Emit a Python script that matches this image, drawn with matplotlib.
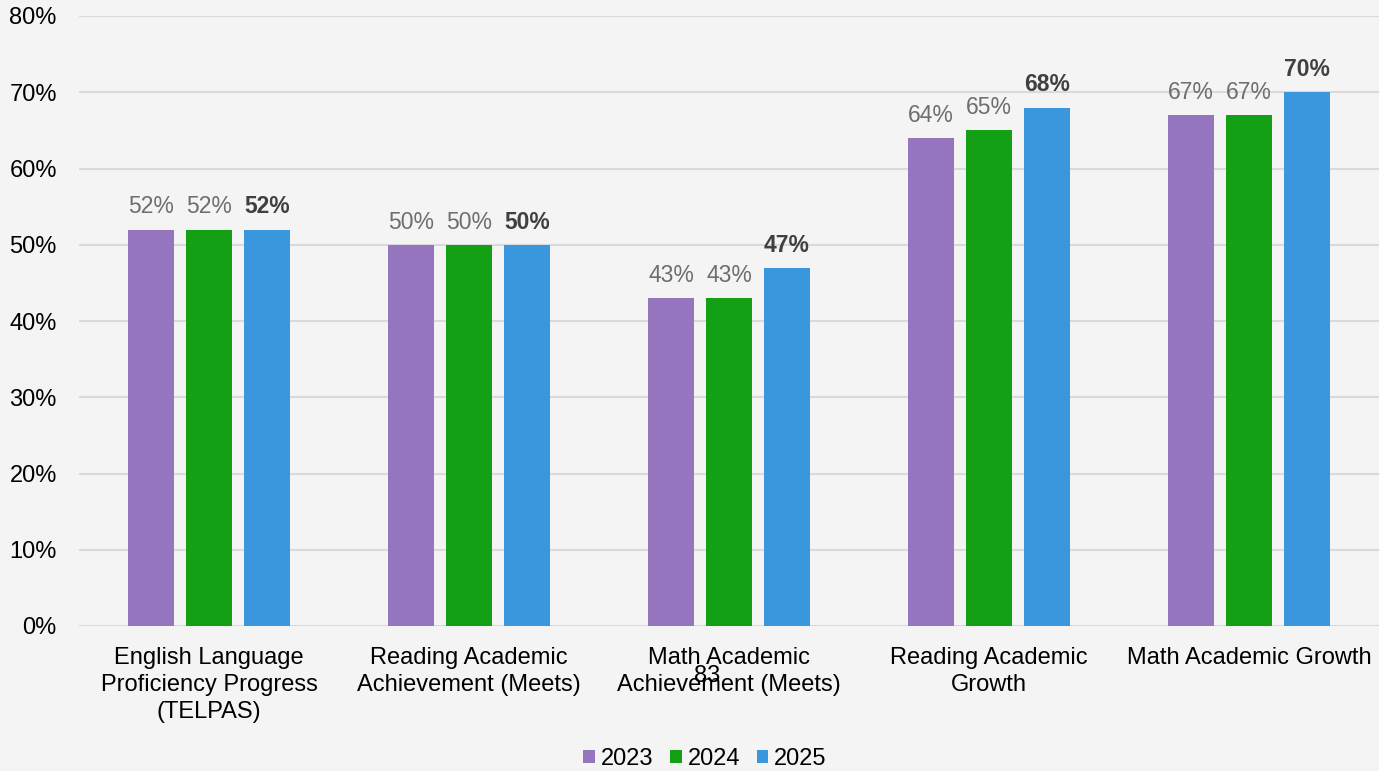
import numpy as np
import matplotlib.pyplot as plt
from matplotlib.ticker import PercentFormatter

plt.rcParams['font.family'] = ['Liberation Sans', 'DejaVu Sans']

# categories and yearly results (percent)
categories = ["English Language\nProficiency Progress\n(TELPAS)",
              "Reading Academic\nAchievement (Meets)",
              "Math Academic\nAchievement (Meets)",
              "Reading Academic\nGrowth",
              "Math Academic Growth"]
years = ["2023", "2024", "2025"]
vals_2023 = [52, 50, 43, 64, 67]
vals_2024 = [52, 50, 43, 65, 67]
vals_2025 = [52, 50, 47, 68, 70]

colors = ["#9575BE", "#14A014", "#3A97DD"]
bg = "#F4F4F4"
fs = 17

fig = plt.figure(figsize=(13.79, 7.71), dpi=100, facecolor=bg)
ax = fig.add_axes([79/1379, 1 - 626/771, 1 - 79/1379, 610/771])
ax.set_facecolor(bg)

x = np.arange(len(categories))
width = 0.177
step = 0.223
series = [vals_2023, vals_2024, vals_2025]

for i, (yr, vals, c) in enumerate(zip(years, series, colors)):
    bars = ax.bar(x + (i - 1) * step, vals, width, color=c, label=yr, zorder=3)
    for b, v in zip(bars, vals):
        if i == 2:
            ax.annotate(f"{v}%", (b.get_x() + b.get_width() / 2, v),
                        xytext=(0, 8), textcoords="offset points",
                        ha="center", va="bottom", fontsize=16.5,
                        fontweight="bold", color="#404040")
        else:
            ax.annotate(f"{v}%", (b.get_x() + b.get_width() / 2, v),
                        xytext=(0, 8), textcoords="offset points",
                        ha="center", va="bottom", fontsize=16.5,
                        color="#6E6E6E")

ax.set_ylim(0, 80)
ax.set_xlim(-0.5, len(categories) - 0.5)
ax.set_yticks(np.arange(0, 81, 10))
ax.yaxis.set_major_formatter(PercentFormatter(decimals=0))
ax.grid(axis="y", color="#DADADA", linewidth=1.5, zorder=0)
ax.set_xticks(x)
ax.set_xticklabels(categories, fontsize=fs, linespacing=1.3)
ax.tick_params(axis="both", length=0, labelsize=fs, colors="black")
ax.tick_params(axis="x", pad=15)
ax.tick_params(axis="y", pad=16)
for s in ax.spines.values():
    s.set_visible(False)

fig.legend(loc="center", bbox_to_anchor=(705/1379, 1 - 759/771), ncol=3,
           frameon=False, fontsize=fs, handlelength=0.5, handleheight=0.5,
           handletextpad=0.25, columnspacing=0.7)

fig.text(707/1379, 1 - 676/771, "83", ha="center", va="center", fontsize=fs)

fig.savefig("out.png", dpi=100, facecolor=bg)
